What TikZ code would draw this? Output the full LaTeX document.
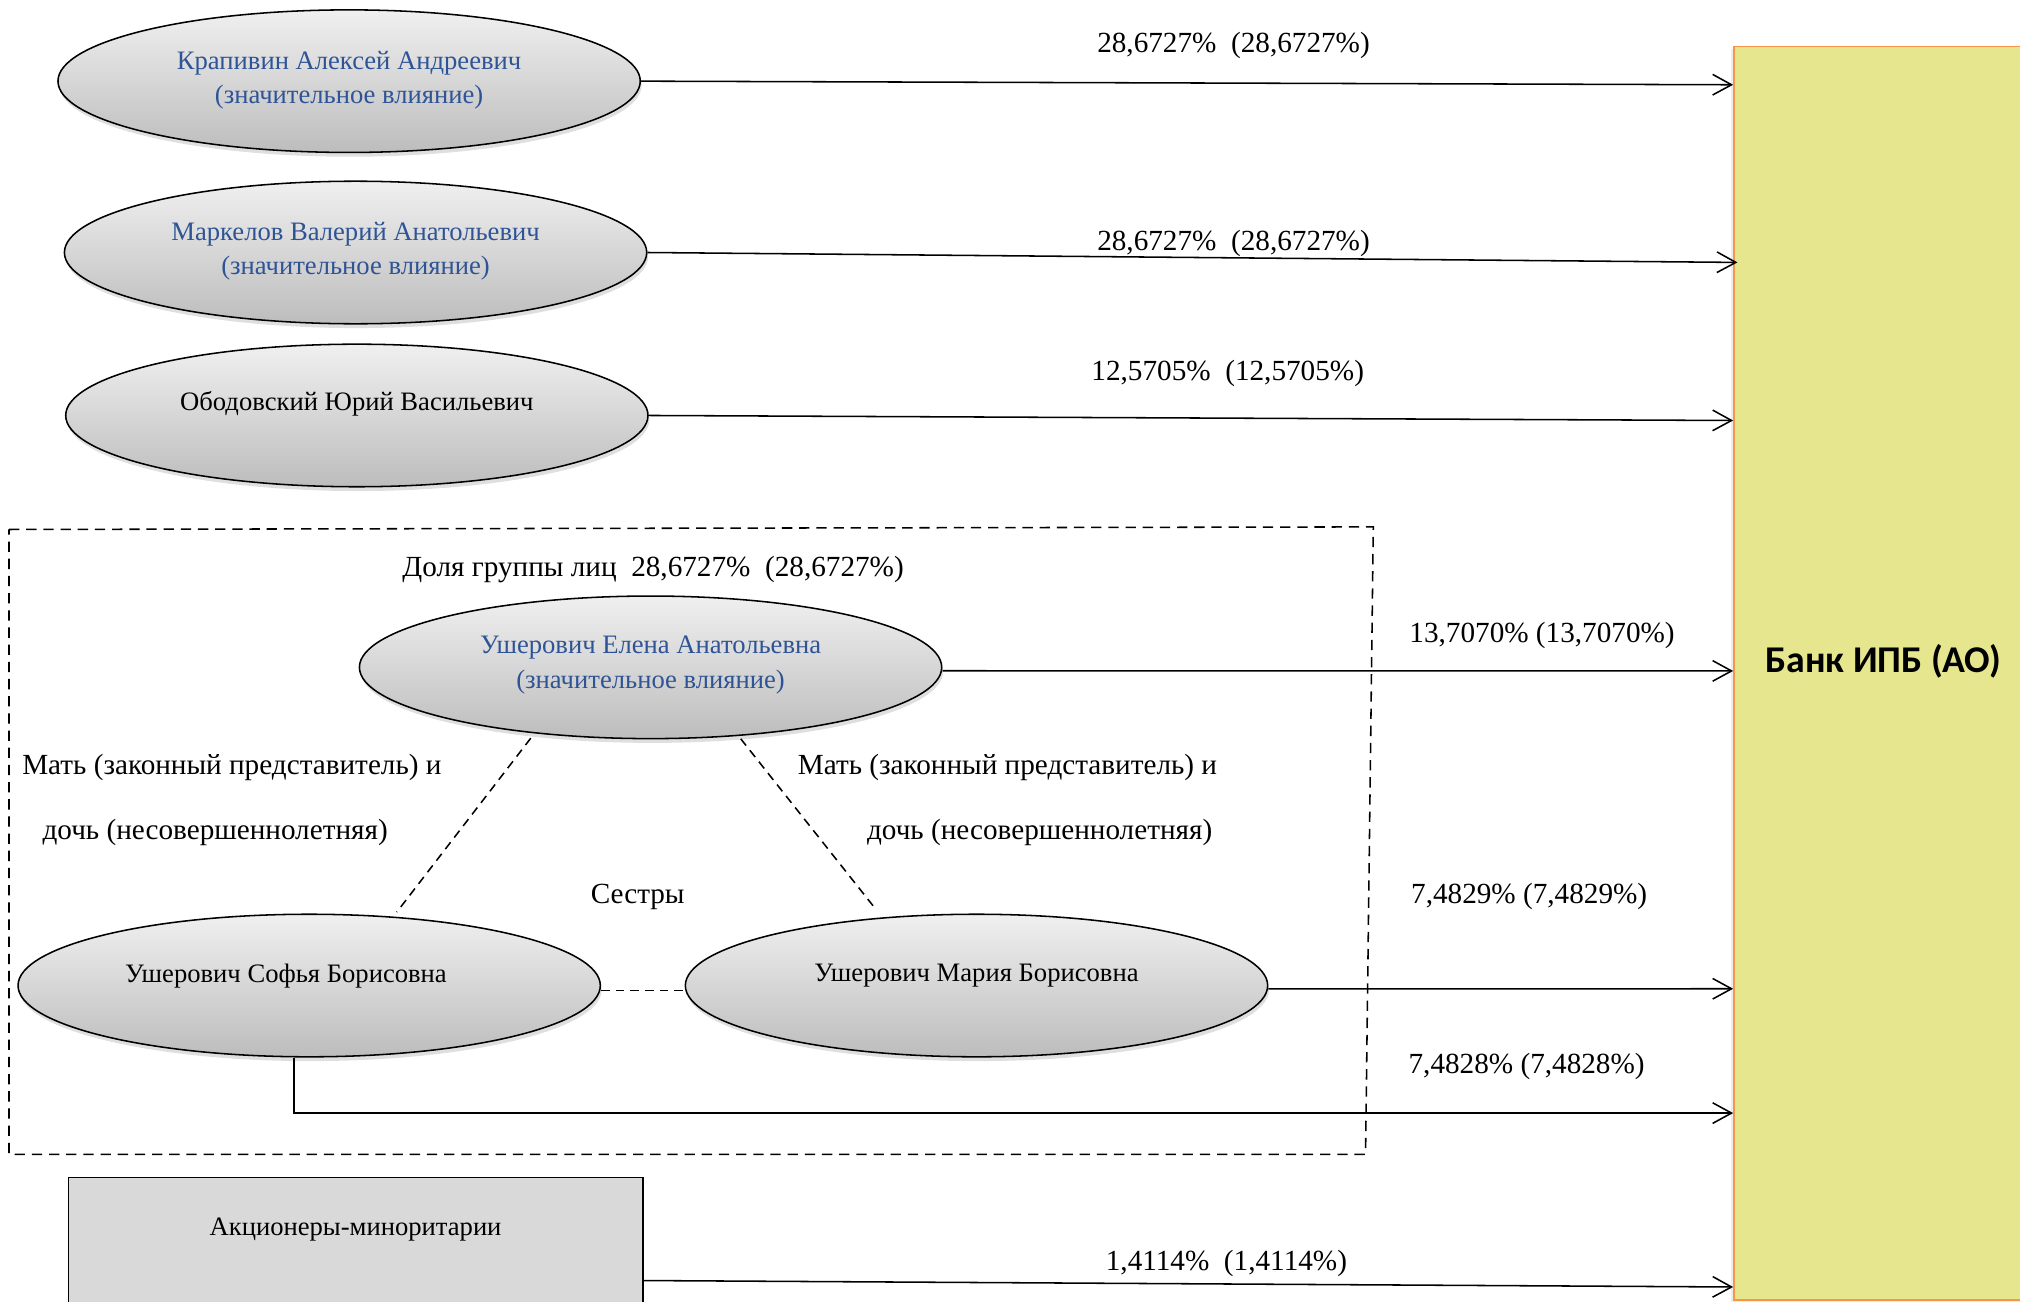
\documentclass[tikz,border=0pt]{standalone}
\usepackage{fontspec}
\setmainfont{Liberation Serif}
\newfontfamily\bankfont{Carlito}
\usetikzlibrary{arrows.meta,shapes.geometric,shadows,calc}
\definecolor{nameblue}{RGB}{47,84,150}
\definecolor{bankfill}{RGB}{230,230,143}
\definecolor{bankedge}{RGB}{247,150,70}
\definecolor{minfill}{RGB}{217,217,217}
\begin{document}
\begin{tikzpicture}[x=0.75pt,y=-0.75pt,
  person/.style={ellipse, draw=black, line width=0.9pt, minimum width=339pt,
    minimum height=83pt, inner sep=0pt, top color=black!6, bottom color=black!26,
    drop shadow={shadow xshift=0.8pt, shadow yshift=-2.5pt, opacity=0.25}},
  ptext/.style={font=\fontsize{15.5}{20.25}\selectfont, align=center, inner sep=0pt},
  lbl/.style={font=\fontsize{17}{20}\selectfont, inner sep=0pt},
  arr/.style={line width=0.9pt, -{Straight Barb[length=11pt, width=12pt, line width=0.9pt]}},
  rel/.style={line width=0.9pt, dash pattern=on 5pt off 3.5pt},
  groupbox/.style={line width=0.9pt, dash pattern=on 6pt off 4pt},
  bankbox/.style={rectangle, draw=bankedge, line width=1pt, fill=bankfill,
    minimum width=183pt, minimum height=729.75pt, inner sep=0pt,
    drop shadow={shadow xshift=-1.5pt, shadow yshift=-1.5pt, opacity=0.15}},
  minbox/.style={rectangle, draw=black, line width=0.9pt, fill=minfill,
    minimum width=334.5pt, minimum height=124.5pt, inner sep=0pt}
]
\useasboundingbox (0,0) rectangle (1568,1010);
\clip (0,0) rectangle (1568,1010);

% bank
\node[bankbox] (bank) at (1468,522.5) {};
\node[font=\bankfont\bfseries\fontsize{22}{25}\selectfont, inner sep=0pt] (banktxt) at (1462,513.5) {Банк ИПБ (АО)};

% persons
\node[person, label={[ptext, text=nameblue, yshift=0.6pt]center:{Крапивин Алексей Андреевич\\(значительное влияние)}}] (e1) at (271,63) {};
\node[person, label={[ptext, text=nameblue, yshift=0.8pt]center:{Маркелов Валерий Анатольевич\\(значительное влияние)}}] (e2) at (276,196) {};
\node[person, label={[ptext, yshift=6.6pt]center:{Ободовский Юрий Васильевич}}] (e3) at (277,322.5) {};

% group box
\draw[groupbox] (7,411) -- (1066,409) -- (1060,896) -- (7,896) -- cycle;
\node[lbl] (grp) at (507,442) {Доля группы лиц\enspace 28,6727\%\enspace(28,6727\%)};

\node[person, label={[ptext, text=nameblue, yshift=1.4pt]center:{Ушерович Елена Анатольевна\\(значительное влияние)}}] (elena) at (505,518) {};
\node[person, label={[ptext, xshift=-13.5pt, yshift=5.5pt]center:{Ушерович Софья Борисовна}}] (sofia) at (240,765) {};
\node[person, label={[ptext, yshift=5.7pt]center:{Ушерович Мария Борисовна}}] (maria) at (758,765) {};

\node[lbl] (ml1) at (180,596) {Мать (законный представитель) и};
\node[lbl] (ml2) at (167,646) {дочь (несовершеннолетняя)};
\node[lbl] (mr1) at (782,596) {Мать (законный представитель) и};
\node[lbl] (mr2) at (807,646.5) {дочь (несовершеннолетняя)};
\node[lbl] (sis) at (495,696) {Сестры};

\draw[rel] ($(elena.center)+(-93,55)$) -- ($(sofia.center)+(68,-57)$);
\draw[rel] ($(elena.center)+(70,55.5)$) -- ($(maria.center)+(-78,-59)$);
\draw[rel] ([yshift=-3pt]sofia.east) -- ([yshift=-3pt]maria.west);

% minority
\node[minbox, label={[ptext, yshift=31.75pt]center:{Акционеры-миноритарии}}] (minor) at (276,997) {};

% arrows
\draw[arr] (e1.east) -- (bank.west |- 0,65.8);
\draw[arr] (e2.east) -- ([xshift=2.5pt]bank.west |- 0,203.7);
\draw[arr] (e3.east) -- (bank.west |- 0,326.4);
\draw[arr] ([yshift=-2pt]elena.east) -- (bank.west |- 0,520.8);
\draw[arr] ([yshift=-2pt]maria.east) -- (bank.west |- 0,767.5);
\draw[arr] ([xshift=-9pt]sofia.south) |- (bank.west |- 0,864);
\draw[arr] (minor.east |- 0,994) -- (bank.west |- 0,999);

% labels
\node[lbl] (l1) at (957.5,35.6) {28,6727\%\enspace(28,6727\%)};
\node[lbl] (l2) at (957.5,189) {28,6727\%\enspace(28,6727\%)};
\node[lbl] (l3) at (953,290) {12,5705\%\enspace(12,5705\%)};
\node[lbl] (l4) at (1197,493) {13,7070\% (13,7070\%)};
\node[lbl] (l5) at (1187,696) {7,4829\% (7,4829\%)};
\node[lbl] (l6) at (1185,828) {7,4828\% (7,4828\%)};
\node[lbl] (l7) at (952,981) {1,4114\%\enspace(1,4114\%)};
\end{tikzpicture}
\end{document}
